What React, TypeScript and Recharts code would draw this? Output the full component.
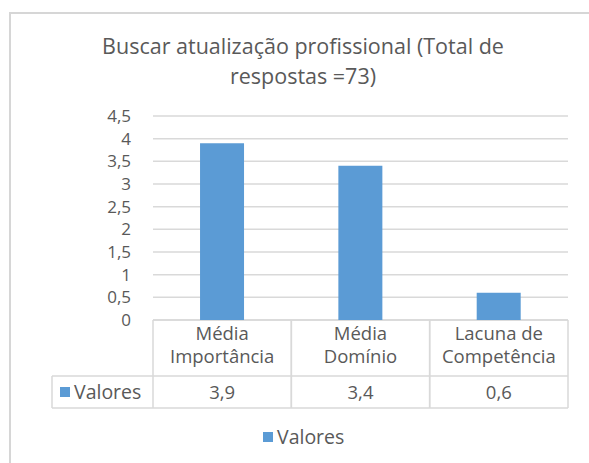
import React from "react";
import { BarChart, Bar, XAxis, YAxis, CartesianGrid } from "recharts";

const categories: string[][] = [
  ["Média", "Importância"],
  ["Média", "Domínio"],
  ["Lacuna de", "Competência"],
];
const values: number[] = [3.9, 3.4, 0.6];
const valueLabels: string[] = ["3,9", "3,4", "0,6"];
const yTicks: number[] = [0, 0.5, 1, 1.5, 2, 2.5, 3, 3.5, 4, 4.5];
const seriesName = "Valores";
const titleLines = ["Buscar atualização profissional (Total de", "respostas =73)"];

const data = categories.map((c, i) => ({
  key: c.join(" "),
  lines: c,
  value: values[i],
  label: valueLabels[i],
}));

const W = 589;
const H = 463;
const PLOT_L = 153;
const PLOT_R = 568;
const PLOT_T = 116;
const PLOT_B = 320;
const BAND = (PLOT_R - PLOT_L) / categories.length;
const ROW1_B = 376;
const ROW2_B = 408;
const FONT = "'Open Sans', sans-serif";
const TXT = "#595959";
const LINE = "#d9d9d9";
const BAR = "#5b9bd5";
const FS = 18.5;
const YFS = 17;

const fmt = (v: number) => String(v).replace(".", ",");

const YTick = (props: any) => {
  const { y, payload } = props;
  return (
    <text x={131} y={y} dy={6} textAnchor="end" fill={TXT} fontSize={YFS} fontFamily={FONT}>
      {fmt(payload.value)}
    </text>
  );
};

const XTick = (props: any) => {
  const { x, payload, index } = props;
  const d = data[index] || data.find((e) => e.key === payload.value);
  const l = x - BAND / 2;
  const r = x + BAND / 2;
  return (
    <g>
      <line x1={l} y1={PLOT_B} x2={l} y2={ROW2_B} stroke={LINE} strokeWidth={1.5} />
      <line x1={r} y1={PLOT_B} x2={r} y2={ROW2_B} stroke={LINE} strokeWidth={1.5} />
      <text x={x} y={340} textAnchor="middle" fill={TXT} fontSize={FS} fontFamily={FONT}>
        {d.lines[0]}
      </text>
      <text x={x} y={363} textAnchor="middle" fill={TXT} fontSize={FS} fontFamily={FONT}>
        {d.lines[1]}
      </text>
      <text x={x} y={399} textAnchor="middle" fill={TXT} fontSize={FS} fontFamily={FONT}>
        {d.label}
      </text>
    </g>
  );
};

export default function App() {
  return (
    <div style={{ position: "absolute", left: 0, top: 0, width: W, height: H, background: "#fff" }}>
      <svg width={W} height={H} style={{ position: "absolute", left: 0, top: 0 }}>
        <line x1={9} y1={13} x2={W} y2={13} stroke="#d6d6d6" strokeWidth={2} />
        <line x1={10} y1={13} x2={10} y2={H} stroke="#d6d6d6" strokeWidth={2} />
        {titleLines.map((t, i) => (
          <text
            key={i}
            x={303}
            y={54 + i * 30}
            textAnchor="middle"
            fill={TXT}
            fontSize={21.5}
            fontFamily={FONT}
          >
            {t}
          </text>
        ))}
        <line x1={PLOT_L} y1={PLOT_B} x2={PLOT_R} y2={PLOT_B} stroke={LINE} strokeWidth={1.5} />
        <line x1={52} y1={ROW1_B} x2={PLOT_R} y2={ROW1_B} stroke={LINE} strokeWidth={1.5} />
        <line x1={52} y1={ROW2_B} x2={PLOT_R} y2={ROW2_B} stroke={LINE} strokeWidth={1.5} />
        <line x1={52} y1={ROW1_B} x2={52} y2={ROW2_B} stroke={LINE} strokeWidth={1.5} />
        <rect x={60} y={387} width={10} height={10} fill={BAR} />
        <text x={74} y={399} fill={TXT} fontSize={19.5} fontFamily={FONT}>
          {seriesName}
        </text>
        <rect x={263} y={432} width={10} height={10} fill={BAR} />
        <text x={277} y={444} fill={TXT} fontSize={19.5} fontFamily={FONT}>
          {seriesName}
        </text>
      </svg>
      <div style={{ position: "absolute", left: 0, top: 0 }}>
        <BarChart
          width={W}
          height={H}
          data={data}
          margin={{ top: PLOT_T, right: W - PLOT_R, bottom: 0, left: 0 }}
          barCategoryGap="34%"
        >
          <CartesianGrid vertical={false} stroke={LINE} strokeWidth={1.5} />
          <YAxis
            width={PLOT_L}
            domain={[0, 4.5]}
            ticks={yTicks}
            axisLine={false}
            tickLine={false}
            tick={<YTick />}
            interval={0}
          />
          <XAxis
            dataKey="key"
            height={H - PLOT_B}
            axisLine={false}
            tickLine={false}
            tick={<XTick />}
            interval={0}
          />
          <Bar dataKey="value" name={seriesName} fill={BAR} isAnimationActive={false} />
        </BarChart>
      </div>
    </div>
  );
}
